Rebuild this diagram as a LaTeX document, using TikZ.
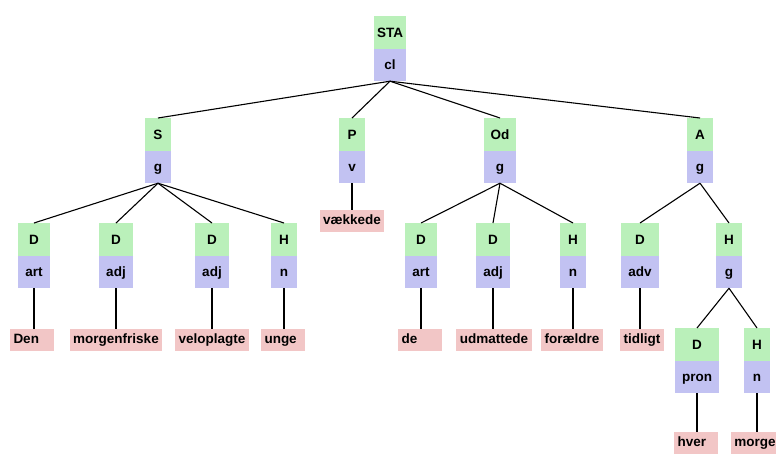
\documentclass[tikz,border=0pt]{standalone}
\usepackage{fontspec}
\setmainfont{Liberation Sans}
\usetikzlibrary{shapes.multipart}
\definecolor{fgreen}{RGB}{186,240,186}
\definecolor{fpurple}{RGB}{194,194,242}
\definecolor{wpink}{RGB}{242,198,198}
\newcommand{\lblfont}{\fontsize{13.5}{15}\selectfont\bfseries}
\newcommand{\hs}{\rule[-11pt]{0pt}{32pt}}
\newlength{\wlen}
\newcommand{\wtxt}[1]{\settowidth{\wlen}{#1}\ifdim\wlen<37pt\makebox[37pt][l]{#1}\else#1\fi}
\tikzset{
  tn/.style={rectangle split, rectangle split parts=2,
    rectangle split part fill={fgreen,fpurple},
    inner xsep=7pt, inner ysep=0pt, minimum width=26pt,
    font=\lblfont, anchor=north},
  wd/.style={fill=wpink, inner xsep=3.5pt, inner ysep=0pt,
    minimum height=22pt,
    text height=10pt, text depth=3pt, font=\lblfont, anchor=north},
  br/.style={line width=1.1pt, black}
}
\begin{document}
\begin{tikzpicture}[x=1pt,y=-1pt]
\path[use as bounding box, clip] (0,0) rectangle (776,455);
% level 0
\node[tn, inner xsep=3pt] (sta) at (390,16) {\hs STA\nodepart{two}\hs cl};
% level 1
\node[tn] (s)  at (158,118) {\hs S\nodepart{two}\hs g};
\node[tn] (p)  at (352,118) {\hs P\nodepart{two}\hs v};
\node[tn] (od) at (500,118) {\hs Od\nodepart{two}\hs g};
\node[tn] (a)  at (700,118) {\hs A\nodepart{two}\hs g};
% level 2
\node[tn] (sd1) at (34,223)  {\hs D\nodepart{two}\hs art};
\node[tn] (sd2) at (116,223) {\hs D\nodepart{two}\hs adj};
\node[tn] (sd3) at (212,223) {\hs D\nodepart{two}\hs adj};
\node[tn] (sh)  at (284,223) {\hs H\nodepart{two}\hs n};
\node[tn] (od1) at (421,223) {\hs D\nodepart{two}\hs art};
\node[tn] (od2) at (493,223) {\hs D\nodepart{two}\hs adj};
\node[tn] (oh)  at (573,223) {\hs H\nodepart{two}\hs n};
\node[tn] (ad)  at (640,223) {\hs D\nodepart{two}\hs adv};
\node[tn] (ah)  at (729,223) {\hs H\nodepart{two}\hs g};
% level 3
\node[tn] (hd) at (697,328) {\hs D\nodepart{two}\hs pron};
\node[tn] (hh) at (757,328) {\hs H\nodepart{two}\hs n};
% words
\node[wd] (wvk)  at (352,210) {\wtxt{vækkede}};
\node[wd] (wden) at (32,329)  {\wtxt{Den}};
\node[wd] (wmf)  at (116,329) {\wtxt{morgenfriske}};
\node[wd] (wvp)  at (212,329) {\wtxt{veloplagte}};
\node[wd] (wug)  at (283,329) {\wtxt{unge}};
\node[wd] (wde)  at (420,329) {\wtxt{de}};
\node[wd] (wud)  at (494,329) {\wtxt{udmattede}};
\node[wd] (wfo)  at (572,329) {\wtxt{forældre}};
\node[wd] (wti)  at (642,329) {\wtxt{tidligt}};
\node[wd] (whv)  at (696,432) {\wtxt{hver}};
\node[wd] (wmo)  at (759,432) {\wtxt{morgen}};
% connectors
\foreach \c in {s,p,od,a} \draw[br] (sta.south) -- (\c.north);
\foreach \c in {sd1,sd2,sd3,sh} \draw[br] (s.south) -- (\c.north);
\foreach \c in {od1,od2,oh} \draw[br] (od.south) -- (\c.north);
\foreach \c in {ad,ah} \draw[br] (a.south) -- (\c.north);
\foreach \c in {hd,hh} \draw[br] (ah.south) -- (\c.north);
\draw[br] (p.south) -- (p.south |- wvk.north);
\draw[br] (sd1.south) -- (sd1.south |- wden.north);
\draw[br] (sd2.south) -- (sd2.south |- wmf.north);
\draw[br] (sd3.south) -- (sd3.south |- wvp.north);
\draw[br] (sh.south) -- (sh.south |- wug.north);
\draw[br] (od1.south) -- (od1.south |- wde.north);
\draw[br] (od2.south) -- (od2.south |- wud.north);
\draw[br] (oh.south) -- (oh.south |- wfo.north);
\draw[br] (ad.south) -- (ad.south |- wti.north);
\draw[br] (hd.south) -- (hd.south |- whv.north);
\draw[br] (hh.south) -- (hh.south |- wmo.north);
\end{tikzpicture}
\end{document}
